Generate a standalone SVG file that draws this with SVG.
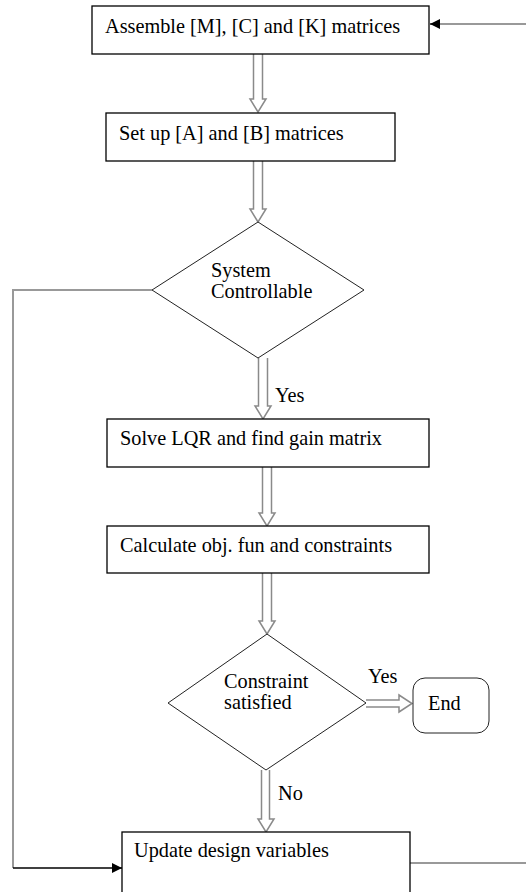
<svg xmlns="http://www.w3.org/2000/svg" width="526" height="892" viewBox="0 0 526 892">
<defs>
<style>
.box{fill:#fff;stroke:#000;stroke-width:1.3}
.dia{fill:#fff;stroke:#222;stroke-width:1}
text{font-family:'Liberation Serif','Times New Roman','DejaVu Serif',serif;font-size:20.3px;fill:#000}
.blk{fill:#fff;stroke:#8a8a8a;stroke-width:1.5;stroke-linejoin:miter}
.gl{fill:none;stroke:#999;stroke-width:2}
.bl{fill:none;stroke:#000;stroke-width:1.3}
</style>
<marker id="ah" viewBox="0 0 10 10" refX="10" refY="5" markerWidth="10" markerHeight="10" markerUnits="userSpaceOnUse" orient="auto">
<path d="M0,0 L10,5 L0,10 z" fill="#000"/>
</marker>
</defs>
<g id="connectors">
<path class="gl" d="M526,24 L440,24"/>
<path class="bl" d="M440,24 L430,24" marker-end="url(#ah)"/>
<path class="blk" d="M253.5,54 L253.5,99 L250,99 L258,112 L266,99 L262.5,99 L262.5,54"/>
<path class="blk" d="M253.5,161 L253.5,209 L250,209 L258,222 L266,209 L262.5,209 L262.5,161"/>
<path class="blk" d="M258.5,358 L258.5,406 L255,406 L263,419 L271,406 L267.5,406 L267.5,358"/>
<path class="blk" d="M262.5,467 L262.5,513 L259,513 L267,526 L275,513 L271.5,513 L271.5,467"/>
<path class="blk" d="M262.5,573 L262.5,621 L259,621 L267,634 L275,621 L271.5,621 L271.5,573"/>
<path class="blk" d="M366,700 L399,700 L399,695 L412,703.5 L399,712 L399,707 L366,707"/>
<path class="blk" d="M261.5,770 L261.5,819 L258,819 L266,832 L274,819 L269.5,819 L269.5,770"/>
<path class="gl" d="M152,290 L13,290 L13,868"/>
<path class="bl" d="M13,868 L122,868" marker-end="url(#ah)"/>
<path class="gl" d="M410,863 L526,863"/>
<text x="275" y="402">Yes</text>
<text x="368" y="683">Yes</text>
<text x="278" y="800">No</text>
</g>
<g id="n1">
<rect class="box" x="92" y="6" width="337" height="48"/>
<text x="105" y="33">Assemble [M], [C] and [K] matrices</text>
</g>
<g id="n2">
<rect class="box" x="106" y="113" width="289" height="48"/>
<text x="119" y="140">Set up [A] and [B] matrices</text>
</g>
<g id="n3">
<path class="dia" d="M258,222 L364,290 L258,358 L152,290 Z"/>
<text x="211" y="277">System</text>
<text x="211" y="298">Controllable</text>
</g>
<g id="n4">
<rect class="box" x="107" y="419" width="322" height="48"/>
<text x="120" y="445">Solve LQR and find gain matrix</text>
</g>
<g id="n5">
<rect class="box" x="107" y="526" width="322" height="47"/>
<text x="120" y="552">Calculate obj. fun and constraints</text>
</g>
<g id="n6">
<path class="dia" d="M267,634 L366,703 L266,770 L168,703 Z"/>
<text x="224" y="688">Constraint</text>
<text x="224" y="709">satisfied</text>
</g>
<g id="n7">
<rect class="dia" x="413" y="678" width="76" height="55" rx="12" ry="12"/>
<text x="428" y="710">End</text>
</g>
<g id="n8">
<rect class="box" x="122" y="832" width="288" height="70"/>
<text x="134" y="857">Update design variables</text>
</g>
</svg>
